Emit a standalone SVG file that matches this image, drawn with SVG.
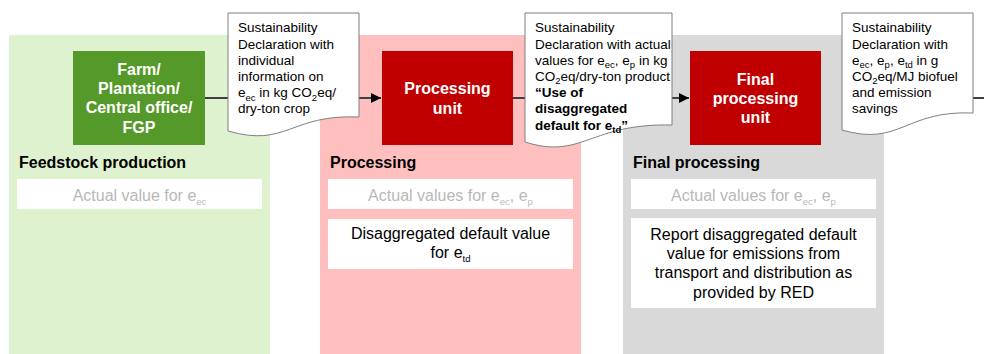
<svg xmlns="http://www.w3.org/2000/svg" width="984" height="354" viewBox="0 0 984 354">
<style>
text{font-family:"Liberation Sans",Arial,Helvetica,sans-serif}
.note{fill:#fff;stroke:#7f7f7f;stroke-width:1}
.nt{font-size:13.5px;fill:#000}
.nb{font-weight:bold}
.ut{font-size:16px;font-weight:bold;fill:#fff;text-anchor:middle}
.sec{font-size:16px;font-weight:bold;fill:#000}
.box{fill:#fff}
.bt{font-size:16px;text-anchor:middle;fill:#000}
.gt{fill:#b8b8b8}
.s{font-size:9.5px}
.conn{stroke:#404040;stroke-width:2;fill:none}
</style>
<defs>
<marker id="ah" viewBox="0 0 10 10" refX="10" refY="5" markerWidth="5" markerHeight="5" orient="auto" markerUnits="strokeWidth">
<path d="M0,0 L10,5 L0,10 Z" fill="#000"/>
</marker>
</defs>
<rect width="984" height="354" fill="#fff"/>
<g id="panel-feedstock">
<rect x="9" y="35" width="261" height="319" fill="#def2d0"/>
<text class="sec" x="19" y="168">Feedstock production</text>
<rect class="box" x="17" y="179" width="245" height="30"/>
<text class="bt gt" x="139.5" y="201">Actual value for e<tspan class="s" dy="4">ec</tspan></text>
</g>
<g id="panel-processing">
<rect x="320" y="35" width="261" height="319" fill="#ffbfbf"/>
<text class="sec" x="330" y="168">Processing</text>
<rect class="box" x="328" y="179" width="245" height="30"/>
<text class="bt gt" x="450.5" y="201">Actual values for e<tspan class="s" dy="4">ec</tspan><tspan dy="-4">, e</tspan><tspan class="s" dy="4">p</tspan></text>
<rect class="box" x="328" y="219" width="245" height="50"/>
<text class="bt" x="450.5" y="239">Disaggregated default value</text>
<text class="bt" x="450.5" y="258.3">for e<tspan class="s" dy="4">td</tspan></text>
</g>
<g id="panel-final">
<rect x="623" y="35" width="261" height="319" fill="#d9d9d9"/>
<text class="sec" x="633" y="168">Final processing</text>
<rect class="box" x="631" y="179" width="245" height="30"/>
<text class="bt gt" x="753.5" y="201">Actual values for e<tspan class="s" dy="4">ec</tspan><tspan dy="-4">, e</tspan><tspan class="s" dy="4">p</tspan></text>
<rect class="box" x="631" y="218" width="245" height="90"/>
<text class="bt" x="753.5" y="240">Report disaggregated default</text>
<text class="bt" x="753.5" y="259.2">value for emissions from</text>
<text class="bt" x="753.5" y="278.4">transport and distribution as</text>
<text class="bt" x="753.5" y="297.6">provided by RED</text>
</g>
<g id="connectors">
<line class="conn" x1="205" y1="98" x2="228" y2="98"/>
<line class="conn" x1="359" y1="98" x2="381" y2="98" marker-end="url(#ah)"/>
<line class="conn" x1="513" y1="98" x2="525" y2="98"/>
<line class="conn" x1="672" y1="98" x2="689" y2="98" marker-end="url(#ah)"/>
<line class="conn" x1="973" y1="98" x2="984" y2="98"/>
</g>
<g id="node-farm">
<rect x="73" y="51" width="132" height="94" fill="#55992a"/>
<text class="ut" x="139" y="75">Farm/</text>
<text class="ut" x="139" y="94.2">Plantation/</text>
<text class="ut" x="139" y="113.4">Central office/</text>
<text class="ut" x="139" y="132.6">FGP</text>
</g>
<g id="node-processing-unit">
<rect x="382" y="51" width="131" height="94" fill="#c00000"/>
<text class="ut" x="447.5" y="94.3">Processing</text>
<text class="ut" x="447.5" y="113.5">unit</text>
</g>
<g id="node-final-processing-unit">
<rect x="690" y="51" width="131" height="94" fill="#c00000"/>
<text class="ut" x="755.5" y="84.8">Final</text>
<text class="ut" x="755.5" y="104">processing</text>
<text class="ut" x="755.5" y="123.2">unit</text>
</g>
<g id="note-1">
<path class="note" d="M228,13 H359 V117 C290,114 287,148 228,131 Z"/>
<text class="nt" x="238" y="32.3">Sustainability</text>
<text class="nt" x="238" y="48.5">Declaration with</text>
<text class="nt" x="238" y="64.7">individual</text>
<text class="nt" x="238" y="80.9">information on</text>
<text class="nt" x="238" y="97.1">e<tspan class="s" dy="3.5">ec</tspan><tspan dy="-3.5"> in kg CO</tspan><tspan class="s" dy="3.5">2</tspan><tspan dy="-3.5">eq/</tspan></text>
<text class="nt" x="238" y="113.3">dry-ton crop</text>
</g>
<g id="note-2">
<path class="note" d="M525,13 H672 V125 C590,123 582,160 525,142 Z"/>
<text class="nt" x="535" y="32.3">Sustainability</text>
<text class="nt" x="535" y="48.5">Declaration with actual</text>
<text class="nt" x="535" y="64.7">values for e<tspan class="s" dy="3.5">ec</tspan><tspan dy="-3.5">, e</tspan><tspan class="s" dy="3.5">p</tspan><tspan dy="-3.5"> in kg</tspan></text>
<text class="nt" x="535" y="80.9">CO<tspan class="s" dy="3.5">2</tspan><tspan dy="-3.5">eq/dry-ton product</tspan></text>
<text class="nt nb" x="535" y="97.1">“Use of</text>
<text class="nt nb" x="535" y="113.3">disaggregated</text>
<text class="nt nb" x="535" y="129.5">default for e<tspan class="s" dy="3.5">td</tspan><tspan dy="-3.5">”</tspan></text>
</g>
<g id="note-3">
<path class="note" d="M842,13 H973 V113 C905,110 900,147 842,130 Z"/>
<text class="nt" x="852" y="32.3">Sustainability</text>
<text class="nt" x="852" y="48.5">Declaration with</text>
<text class="nt" x="852" y="64.7">e<tspan class="s" dy="3.5">ec</tspan><tspan dy="-3.5">, e</tspan><tspan class="s" dy="3.5">p</tspan><tspan dy="-3.5">, e</tspan><tspan class="s" dy="3.5">td</tspan><tspan dy="-3.5"> in g</tspan></text>
<text class="nt" x="852" y="80.9">CO<tspan class="s" dy="3.5">2</tspan><tspan dy="-3.5">eq/MJ biofuel</tspan></text>
<text class="nt" x="852" y="97.1">and emission</text>
<text class="nt" x="852" y="113.3">savings</text>
</g>
</svg>
